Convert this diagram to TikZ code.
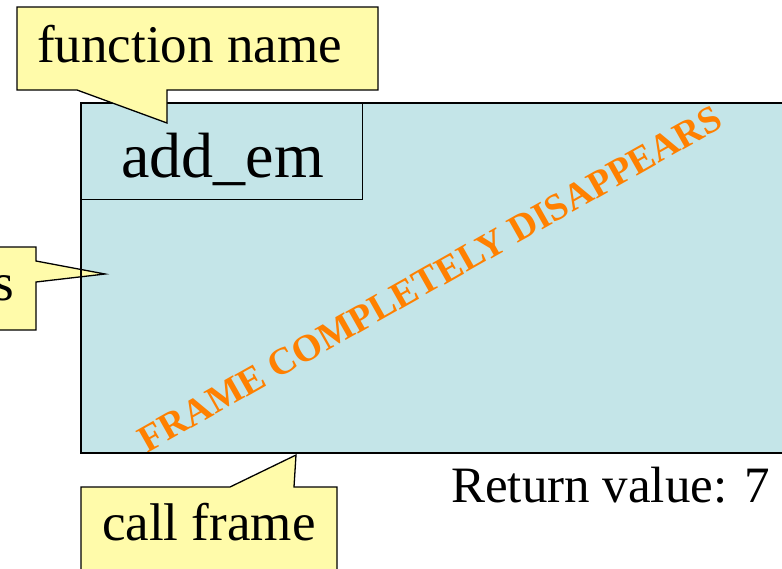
\documentclass[tikz,border=0pt]{standalone}
\usepackage{fontspec}
\setmainfont{Liberation Serif}
\definecolor{framefill}{HTML}{C4E5E8}
\definecolor{notefill}{HTML}{FFFBAA}
\definecolor{stamp}{HTML}{FF8000}
\begin{document}
\begin{tikzpicture}[x=1pt,y=-1pt,
  note/.style={fill=notefill,draw=black,line width=1.3pt,line join=miter},
  txt/.style={inner sep=0pt,anchor=base west,font=\fontsize{53}{60}\selectfont},
  framebox/.style={draw=black,line width=2pt}]
\useasboundingbox (0,0) rectangle (782,568);
\clip (0,0) rectangle (782,568);

% the call frame body
\fill[framefill] (81,103) rectangle (800,453);

% function-name cell
\node[draw=black,line width=1.3pt,fill=framefill,minimum width=281pt,minimum height=96pt,
      inner sep=0pt,anchor=north west] (fnbox) at (81,103) {};
\node[txt,font=\fontsize{64}{70}\selectfont] (fname) at (121,177) {add\_em};

% diagonal stamp
\node[rotate=29.5,text=stamp,inner sep=0pt,font=\bfseries\fontsize{38}{42}\selectfont]
  (gone) at (430,279) {FRAME COMPLETELY DISAPPEARS};

% left callout, only its tail visible
\coordinate (ltip) at (105,274);
\draw[note] (-10,247) -- (36,247) -- (36,261) -- (ltip) -- (36,282) -- (36,330) -- (-10,330) -- cycle;
\node[txt,anchor=base east] (lnote) at (14,300) {s};

% frame border on top
\draw[framebox] (800,103) -- (81,103) -- (81,453) -- (800,453);

% "function name" callout
\coordinate (ftip) at (167,123);
\draw[note] (17,7) -- (378,7) -- (378,90) -- (167,90) -- (ftip) -- (77,90) -- (17,90) -- cycle;
\node[txt] (fnote) at (37,62) {function name};

% "call frame" callout
\coordinate (ctip) at (296,455);
\draw[note] (81,487) -- (230,487) -- (ctip) -- (294,487) -- (337,487) -- (337,580) -- (81,580) -- cycle;
\node[txt] (cnote) at (102,540) {call frame};

% returned value
\node[txt,font=\fontsize{51}{58}\selectfont] (ret) at (451,502) {Return value: 7};
\end{tikzpicture}
\end{document}
